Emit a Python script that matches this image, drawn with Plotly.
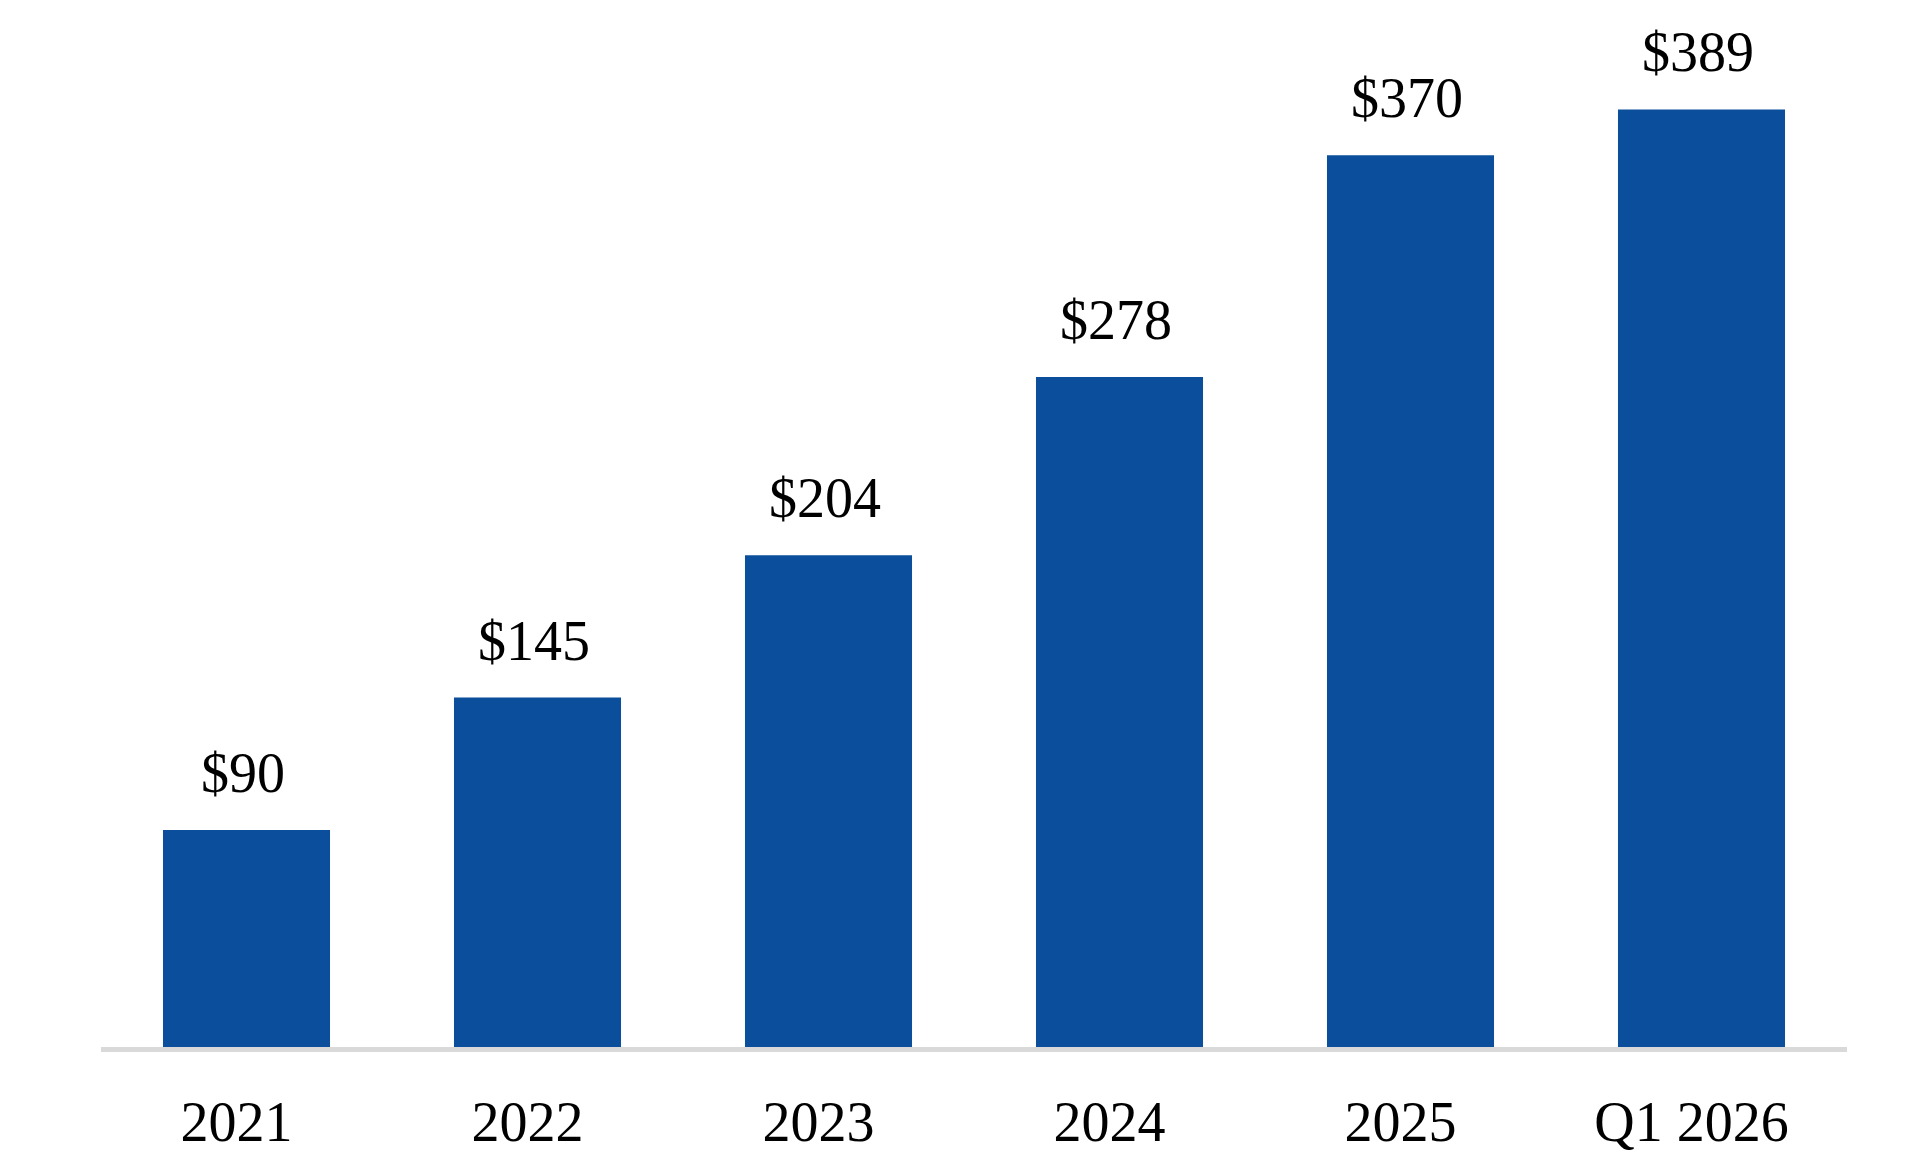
import plotly.graph_objects as go

categories = ["2021", "2022", "2023", "2024", "2025", "Q1 2026"]
values = [90, 145, 204, 278, 370, 389]
value_labels = ["$90", "$145", "$204", "$278", "$370", "$389"]

BAR_COLOR = "#0b4f9c"
FONT = "Liberation Serif, Times New Roman, serif"

fig = go.Figure()
fig.add_trace(go.Bar(
    x=categories,
    y=values,
    marker=dict(color=BAR_COLOR, line=dict(width=0)),
    hoverinfo="skip",
))

for i, (v, t) in enumerate(zip(values, value_labels)):
    fig.add_annotation(
        x=i, y=v, text=t, showarrow=False,
        xanchor="center", yanchor="bottom",
        yshift=24, xshift=-4,
        font=dict(family=FONT, size=56, color="#000000"),
    )

fig.update_layout(
    width=1926, height=1152,
    margin=dict(l=93, r=87, t=40, b=113, pad=0, autoexpand=False),
    paper_bgcolor="#ffffff", plot_bgcolor="#ffffff",
    bargap=0.426,
    showlegend=False,
    font=dict(family=FONT, size=56, color="#000000"),
)
fig.update_xaxes(
    type="category",
    range=[-0.5, len(categories) - 0.5],
    showline=True, linecolor="#d9d9d9", linewidth=5,
    showgrid=False, zeroline=False, ticks="",
    tickfont=dict(family=FONT, size=56, color="#000000"),
    ticklabelstandoff=22,
    ticklabelshift=-10,
    automargin=False,
)
fig.update_yaxes(
    range=[0, 414.5],
    visible=False, showgrid=False, zeroline=False,
    automargin=False,
)

fig.write_html("out.html")
